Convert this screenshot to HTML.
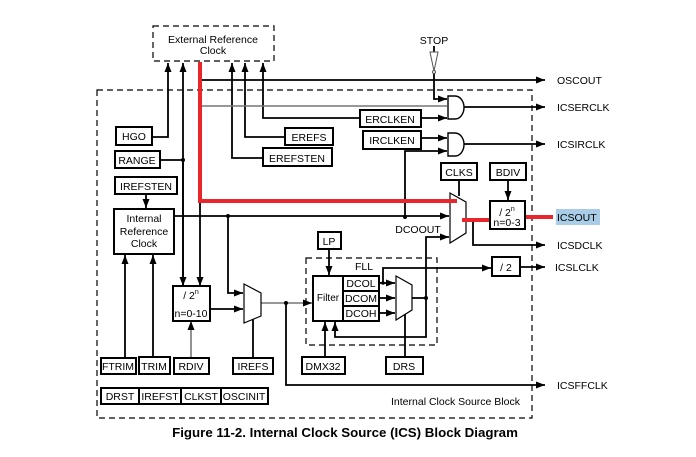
<!DOCTYPE html>
<html><head><meta charset="utf-8"><style>
html,body{margin:0;padding:0;background:#fff;}
svg{display:block;font-family:"Liberation Sans",Arial,sans-serif;font-size:10.5px;}
text{fill:#000;}
</style></head><body>
<svg width="696" height="457" viewBox="0 0 696 457" xmlns="http://www.w3.org/2000/svg">
<defs>
<marker id="a" markerWidth="10" markerHeight="8" refX="9" refY="4" orient="auto" markerUnits="userSpaceOnUse"><path d="M0,0.5 L9,4 L0,7.5 Z" fill="#000"/></marker>
</defs>
<g fill="none" stroke="#000" stroke-width="1.2" stroke-dasharray="6,4">
<rect x="153" y="26" width="121" height="35"/>
<rect x="97" y="90" width="435" height="328"/>
<rect x="306" y="258" width="131" height="87"/>
</g>
<text x="213" y="43" text-anchor="middle">External Reference</text>
<text x="213" y="54" text-anchor="middle">Clock</text>
<g fill="none" stroke="#000" stroke-width="1.8">
<polyline points="152,137 168,137 168,63" marker-end="url(#a)"/>
<polyline points="160,160 183,160"/>
<line x1="183" y1="285" x2="183" y2="63" marker-end="url(#a)"/>
<line x1="183" y1="160" x2="183" y2="286" marker-end="url(#a)"/>
<polyline points="263,158 232,158 232,63" marker-end="url(#a)"/>
<polyline points="285,137 245,137 245,63" marker-end="url(#a)"/>
<polyline points="360,118 263,118 263,63" marker-end="url(#a)"/>
<line x1="200" y1="80" x2="545" y2="80" marker-end="url(#a)"/>
<line x1="434" y1="46" x2="434" y2="52"/>
<polyline points="434,72 434,99 447,99" marker-end="url(#a)"/>
<line x1="421" y1="118" x2="447" y2="118" marker-end="url(#a)"/>
<line x1="421" y1="138" x2="447" y2="138" marker-end="url(#a)"/>
<polyline points="405,217 405,151 447,151" marker-end="url(#a)"/>
<line x1="464" y1="107" x2="545" y2="107" marker-end="url(#a)"/>
<line x1="464" y1="144" x2="545" y2="144" marker-end="url(#a)"/>
<line x1="146" y1="194" x2="146" y2="208" marker-end="url(#a)"/>
<line x1="174" y1="216" x2="449" y2="216" marker-end="url(#a)"/>
<polyline points="228,216 228,293 243,293" marker-end="url(#a)"/>
<line x1="200" y1="201" x2="200" y2="286" marker-end="url(#a)"/>
<line x1="210" y1="309" x2="243" y2="309" marker-end="url(#a)"/>
<line x1="125" y1="358" x2="125" y2="255" marker-end="url(#a)"/>
<line x1="153" y1="358" x2="153" y2="255" marker-end="url(#a)"/>
<line x1="253" y1="358" x2="253" y2="318"/>
<polyline points="286,303 286,385 545,385" marker-end="url(#a)"/>
<line x1="459" y1="180" x2="459" y2="196"/>
<line x1="508" y1="180" x2="508" y2="200" marker-end="url(#a)"/>
<polyline points="426,298 426,237 449,237" marker-end="url(#a)"/>
<polyline points="473,221 473,245 545,245" marker-end="url(#a)"/>
<line x1="525" y1="217" x2="545" y2="217"/>
<polyline points="383,283 383,268 491,268" marker-end="url(#a)"/>
<line x1="520" y1="267" x2="545" y2="267" marker-end="url(#a)"/>
<line x1="329" y1="249" x2="329" y2="275" marker-end="url(#a)"/>
<line x1="379" y1="283" x2="395" y2="283" marker-end="url(#a)"/>
<line x1="379" y1="298" x2="395" y2="298" marker-end="url(#a)"/>
<line x1="379" y1="313" x2="395" y2="313" marker-end="url(#a)"/>
<line x1="412" y1="298" x2="426" y2="298"/>
<polyline points="426,298 426,337 335,337 335,322" marker-end="url(#a)"/>
<line x1="325" y1="357" x2="325" y2="322" marker-end="url(#a)"/>
<line x1="405" y1="357" x2="405" y2="314"/>
</g>
<g fill="none" stroke="#777" stroke-width="1.6">
<line x1="200" y1="106" x2="447" y2="106"/>
<line x1="191" y1="358" x2="191" y2="321" marker-end="url(#a)"/>
<line x1="261" y1="303" x2="312" y2="303" marker-end="url(#a)"/>
</g>
<path d="M430,52 L438,52 L434,71 Z" fill="#fff" stroke="#555" stroke-width="1"/>
<path d="M448,96 L455,96 A9,11.5 0 0 1 455,119 L448,119 Z" fill="#fff" stroke="#000" stroke-width="1.4"/>
<path d="M448,133 L455,133 A9,11.5 0 0 1 455,156 L448,156 Z" fill="#fff" stroke="#000" stroke-width="1.4"/>
<polygon points="450,193 466,202 466,233 450,243" fill="#fff" stroke="#000" stroke-width="1.2"/>
<polygon points="244,284 261,293 261,316 244,323" fill="#fff" stroke="#000" stroke-width="1.2"/>
<polygon points="396,276 412,285 412,310 396,320" fill="#fff" stroke="#000" stroke-width="1.2"/>
<g stroke="#e8262c" stroke-width="4" fill="none">
<polyline points="200,62 200,201 457,201"/>
<line x1="462" y1="220" x2="492" y2="220"/>
<line x1="525" y1="217" x2="553" y2="217"/>
</g>
<rect x="556" y="209" width="44" height="16" fill="#a9cde6"/>
<g fill="#000">
<circle cx="183" cy="160" r="2"/><circle cx="228" cy="216" r="2"/><circle cx="405" cy="217" r="2"/>
<circle cx="286" cy="303" r="2"/><circle cx="426" cy="298" r="2"/><circle cx="383" cy="283" r="1.8"/>
<circle cx="434" cy="72" r="1.5" fill="#fff" stroke="#555"/>
</g>
<g fill="#fff" stroke="#000" stroke-width="2">
<rect x="116" y="127" width="36" height="18"/>
<rect x="115" y="151" width="45" height="17"/>
<rect x="115" y="177" width="62" height="17"/>
<rect x="114" y="209" width="60" height="45"/>
<rect x="285" y="128" width="48" height="17"/>
<rect x="263" y="148" width="69" height="18"/>
<rect x="360" y="110" width="61" height="17"/>
<rect x="363" y="131" width="58" height="18"/>
<rect x="441" y="163" width="36" height="17"/>
<rect x="490" y="163" width="36" height="17"/>
<rect x="490" y="201" width="35" height="28"/>
<rect x="492" y="257" width="28" height="19"/>
<rect x="318" y="232" width="23" height="17"/>
<rect x="313" y="276" width="30" height="45"/>
<rect x="343" y="276" width="36" height="15"/>
<rect x="343" y="291" width="36" height="15"/>
<rect x="343" y="306" width="36" height="15"/>
<rect x="173" y="286" width="37" height="35"/>
<rect x="101" y="358" width="35" height="16"/>
<rect x="139" y="357" width="31" height="17"/>
<rect x="174" y="358" width="35" height="16"/>
<rect x="233" y="358" width="40" height="16"/>
<rect x="302" y="357" width="43" height="17"/>
<rect x="386" y="357" width="37" height="17"/>
<rect x="101" y="388" width="167" height="16"/>
</g>
<g stroke="#000" stroke-width="2"><line x1="139" y1="388" x2="139" y2="404"/><line x1="181" y1="388" x2="181" y2="404"/><line x1="221" y1="388" x2="221" y2="404"/></g>
<g text-anchor="middle">
<text x="134" y="140">HGO</text>
<text x="137" y="164">RANGE</text>
<text x="146" y="190">IREFSTEN</text>
<text x="144" y="222">Internal</text>
<text x="144" y="235">Reference</text>
<text x="144" y="247">Clock</text>
<text x="309" y="141">EREFS</text>
<text x="297" y="162">EREFSTEN</text>
<text x="390" y="123">ERCLKEN</text>
<text x="392" y="144">IRCLKEN</text>
<text x="459" y="176">CLKS</text>
<text x="508" y="176">BDIV</text>
<text x="507" y="216">/ 2<tspan style="font-size:7px" dy="-5">n</tspan></text>
<text x="507" y="226">n=0-3</text>
<text x="506" y="271">/ 2</text>
<text x="329" y="245">LP</text>
<text x="328" y="301" style="font-size:10px">Filter</text>
<text x="361" y="287">DCOL</text>
<text x="361" y="302">DCOM</text>
<text x="361" y="317">DCOH</text>
<text x="191" y="299">/ 2<tspan style="font-size:7px" dy="-5">n</tspan></text>
<text x="191" y="317">n=0-10</text>
<text x="118" y="370">FTRIM</text>
<text x="154" y="370">TRIM</text>
<text x="191" y="370">RDIV</text>
<text x="253" y="370">IREFS</text>
<text x="323" y="370">DMX32</text>
<text x="404" y="370">DRS</text>
<text x="120" y="400">DRST</text>
<text x="160" y="400">IREFST</text>
<text x="201" y="400">CLKST</text>
<text x="244" y="400">OSCINIT</text>
<text x="434" y="44">STOP</text>
<text x="364" y="270">FLL</text>
<text x="418" y="233">DCOOUT</text>
</g>
<text x="557" y="84">OSCOUT</text>
<text x="557" y="111">ICSERCLK</text>
<text x="557" y="148">ICSIRCLK</text>
<text x="557" y="221">ICSOUT</text>
<text x="557" y="249">ICSDCLK</text>
<text x="555" y="271">ICSLCLK</text>
<text x="557" y="389">ICSFFCLK</text>
<text x="391" y="405" style="font-size:10.5px">Internal Clock Source Block</text>
<text x="345" y="437" text-anchor="middle" style="font-weight:bold;font-size:13.3px">Figure 11-2. Internal Clock Source (ICS) Block Diagram</text>
</svg>
</body></html>
